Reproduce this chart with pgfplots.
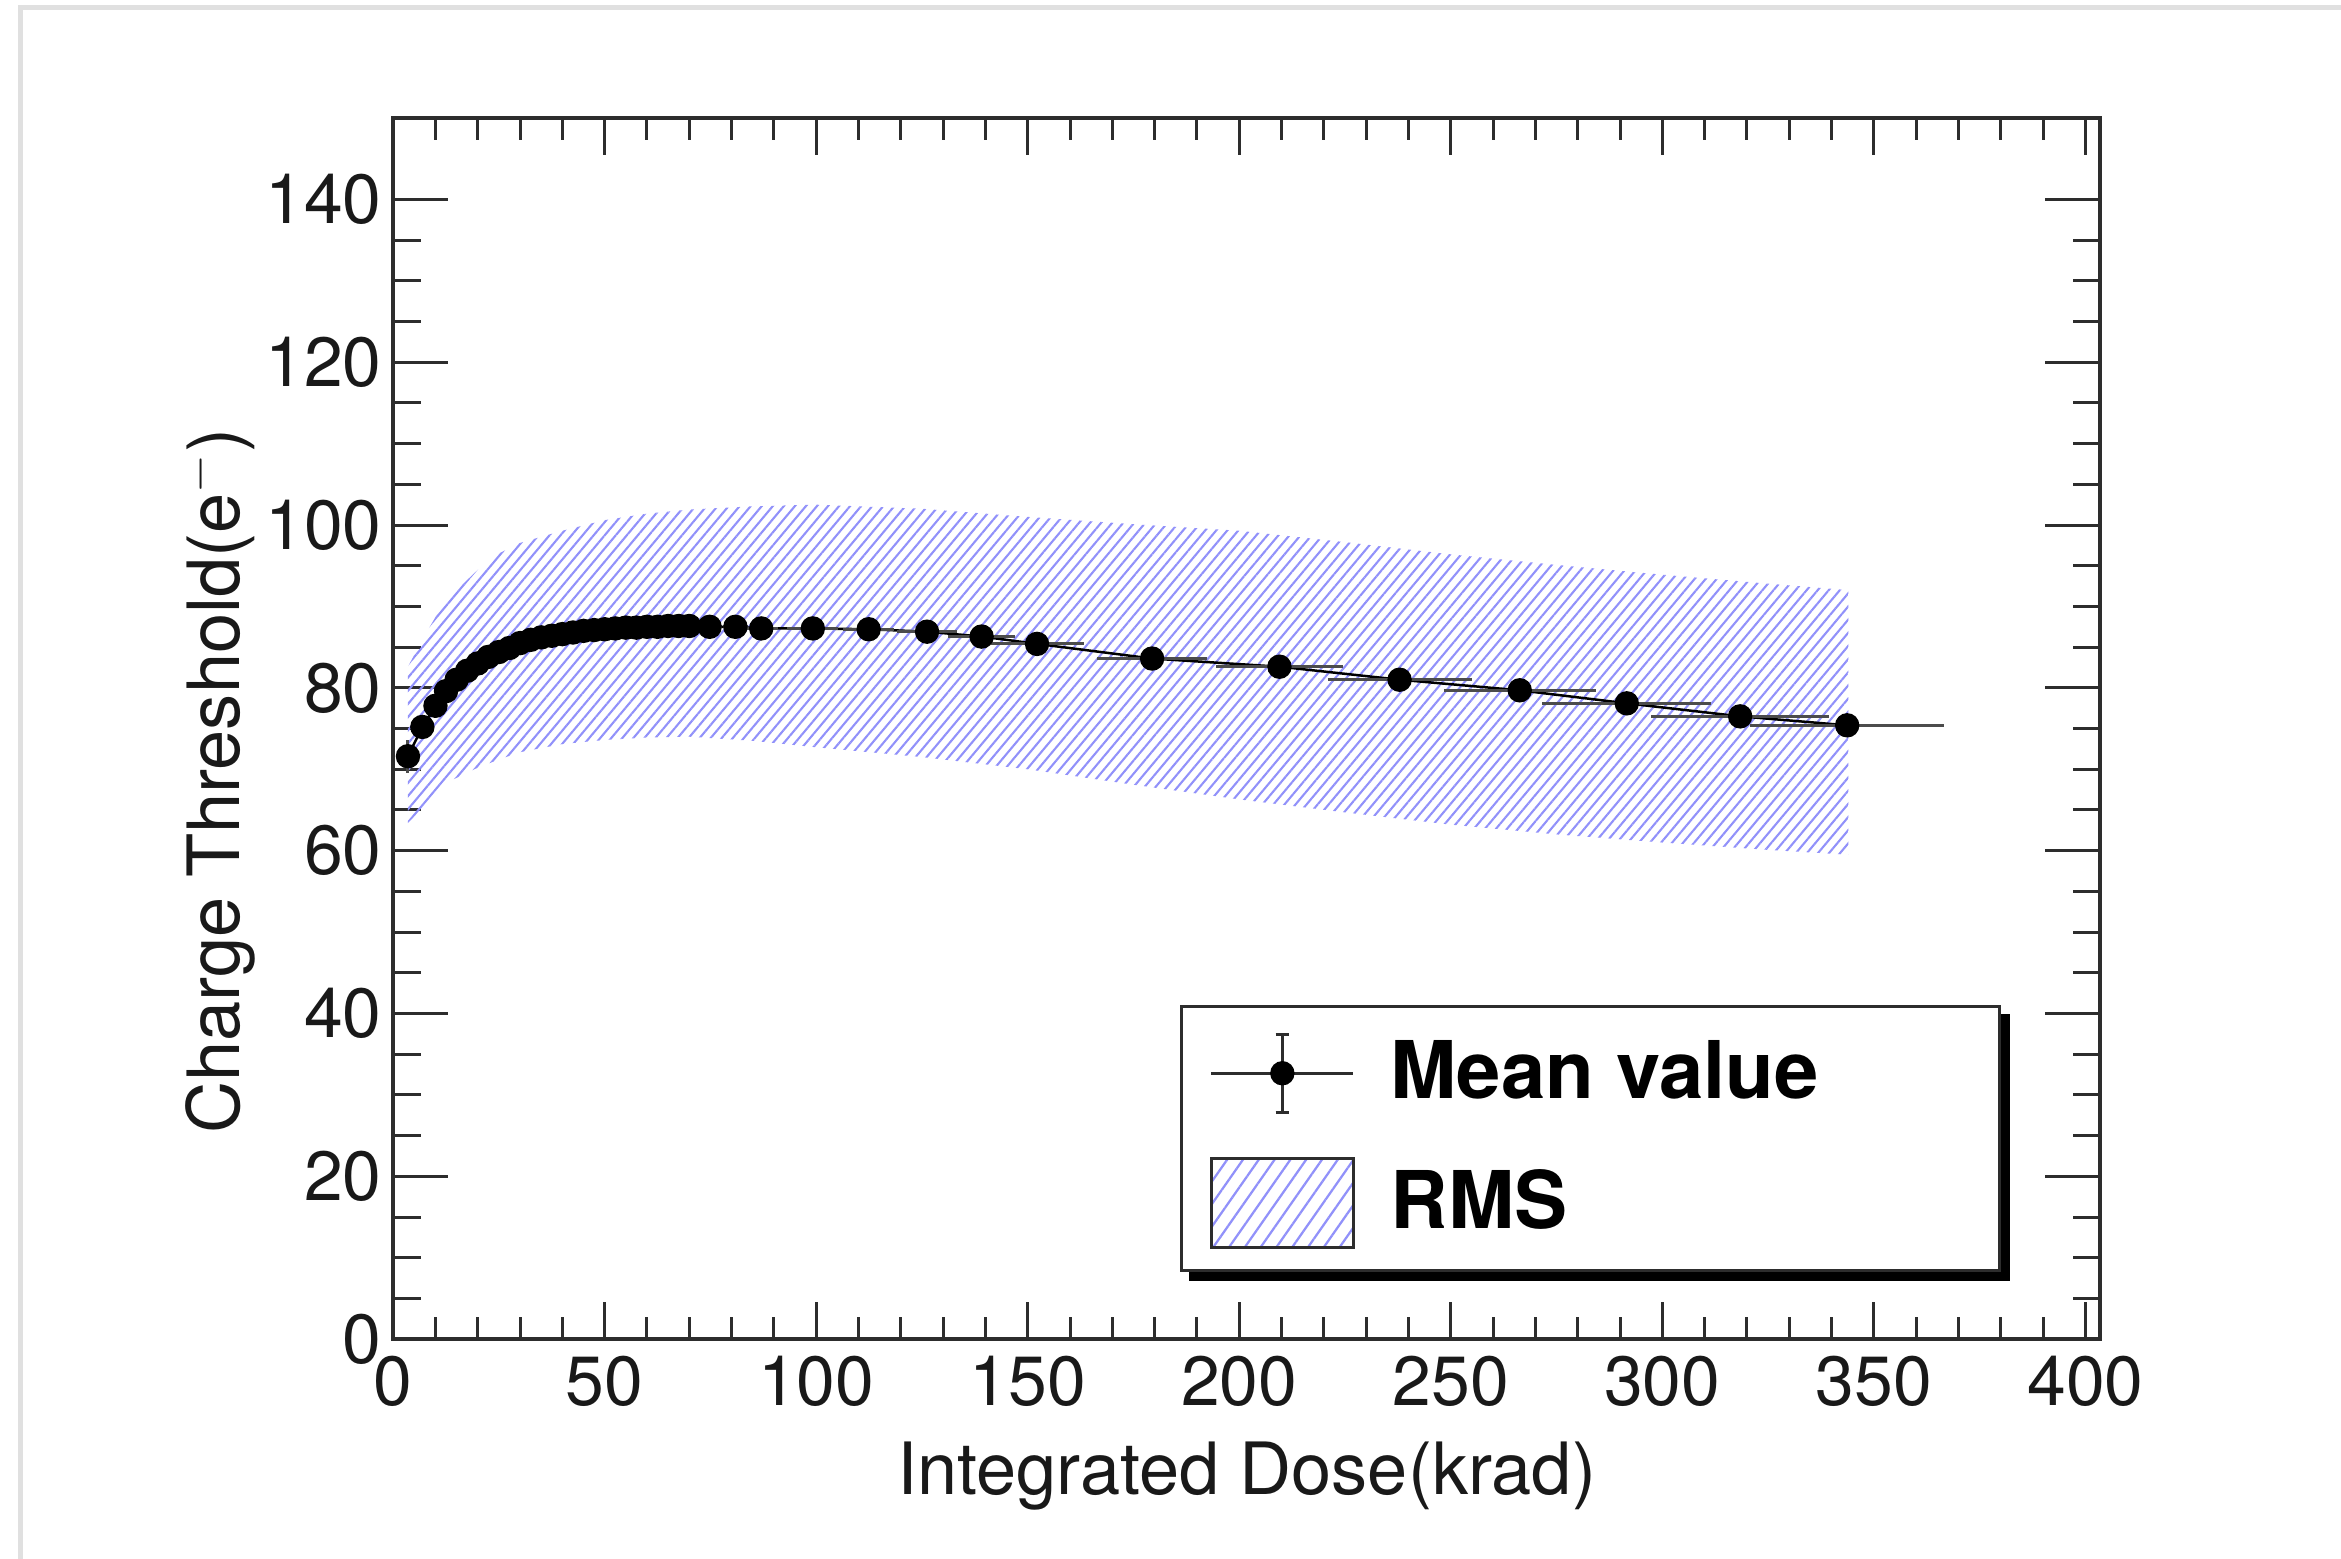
\documentclass[border=0pt]{standalone}
\usepackage{pgfplots}
\pgfplotsset{compat=1.18}
\usepackage{pgfplotstable}
\usepackage{fontspec}
\setmainfont{TeX Gyre Heros}
\usetikzlibrary{patterns.meta}
\definecolor{hatch}{RGB}{145,145,250}
\definecolor{axc}{RGB}{45,45,45}

\pgfplotstableread{
x y ex ey
3.5 71.6 1.2 2.0
6.9 75.2 1.2 1.0
10 77.8 1.2 0.5
12.5 79.6 1.2 0.4
15 81.0 1.2 0.4
17.5 82.1 1.2 0.4
20 83.0 1.2 0.4
22.5 83.8 1.2 0.4
25 84.4 1.2 0.4
27.5 84.9 1.2 0.4
30 85.5 1.2 0.4
32.5 85.9 1.2 0.4
35 86.2 1.2 0.4
37.5 86.4 1.2 0.4
40 86.6 1.2 0.4
42.5 86.8 1.2 0.4
45 87.0 1.2 0.4
47.5 87.1 1.2 0.4
50 87.2 1.2 0.4
52.5 87.3 1.2 0.4
55 87.4 1.2 0.4
57.5 87.4 1.2 0.4
60 87.5 1.2 0.4
62.5 87.5 1.2 0.4
65 87.6 1.2 0.4
67.5 87.6 1.2 0.4
70 87.6 1.2 0.4
74.8 87.5 3 0.4
80.9 87.5 3 0.4
87.0 87.3 4 0.4
99.2 87.3 6 0.4
112.4 87.2 6 0.4
126.2 86.9 7 0.4
139.1 86.3 8 0.4
152.2 85.4 11 0.4
179.4 83.6 13 0.4
209.5 82.6 15 0.4
237.9 81.0 17 0.4
266.3 79.7 18 0.4
291.6 78.1 20 0.4
318.4 76.5 21 0.4
343.7 75.4 23 0.4
}\meandata

\pgfplotstableread{
x y
3.5 82.6
7 86.0
10 88.7
14 91.5
20 94.5
25 96.5
30 97.8
40 99.3
50 100.6
60 101.4
70 101.9
85 102.3
100 102.5
125 102.0
150 101.0
175 100.1
200 99.3
225 97.9
250 96.4
275 95.1
300 93.9
325 92.8
344 92.0
344 59.5
325 60.1
300 61.0
275 62.0
250 63.2
225 64.7
200 66.3
175 68.1
150 70.0
125 71.5
100 72.7
85 73.5
70 74.0
60 73.9
50 73.6
40 73.1
30 72.1
25 71.2
20 70.2
14 68.7
10 67.2
7 65.3
3.5 63.4
}\rmsband

\begin{document}
\begin{tikzpicture}
\useasboundingbox (0,0) rectangle (470.4pt,313.2pt);
\draw[black!12, line width=1pt] (4.2pt,0pt) -- (4.2pt,311.7pt) -- (470.4pt,311.7pt);
\begin{axis}[
  at={(79pt,44.1pt)}, anchor=south west,
  scale only axis, width=343pt, height=245.4pt,
  xmin=0, xmax=403.5, ymin=0, ymax=150,
  xtick={0,50,...,400}, ytick={0,20,...,140},
  minor x tick num=4, minor y tick num=3,
  tick align=inside,
  axis line style={axc, line width=0.7pt},
  tick style={axc, line width=0.6pt},
  major tick length=11pt, minor tick length=5.5pt,
  xtick style={/pgfplots/major tick length=7.5pt,/pgfplots/minor tick length=4.5pt},
  ticklabel style={font=\fontsize{14}{16}\selectfont, text=black!90},
  /pgf/number format/assume math mode=true,
  yticklabel style={inner sep=0pt, xshift=-2.1pt},
  xticklabel style={inner sep=0pt, yshift=-3.2pt},
  xlabel={Integrated Dose(krad)},
  ylabel={Charge Threshold(e$^{-}$)},
  label style={font=\fontsize{14.5}{17}\selectfont, text=black!90},
  xlabel style={at={(axis description cs:0.5,-0.127)}, anchor=base},
  ylabel style={at={(axis description cs:-0.090,0.457)}, anchor=base},
  legend style={name=leg, at={(axis description cs:0.461,0.274)}, anchor=north west,
    draw=axc, line width=0.6pt, fill=white,
    inner xsep=6pt, inner ysep=0.45pt, row sep=0pt, column sep=7.5pt,
    nodes={inner sep=0pt}, font=\bfseries\fontsize{16}{19}\selectfont},
  legend cell align=left,
  reverse legend,
]
\addplot[draw=none, pattern={Lines[angle=50,distance=1.7pt,line width=0.42pt]}, pattern color=hatch,
  legend image code/.code={
    \pgfpathrectangle{\pgfpoint{0pt}{-13.05pt}}{\pgfpoint{28.5pt}{26.1pt}}\pgfusepath{use as bounding box}
    \draw[axc, line width=0.6pt, pattern={Lines[angle=55,distance=2.6pt,line width=0.45pt]}, pattern color=hatch] (0pt,-9pt) rectangle (28.5pt,9pt);
  }] table[x=x,y=y] {\rmsband};
\addlegendentry{\makebox[116.4pt][l]{RMS}}

\addplot[black, line width=0.5pt, mark=*, mark size=2.2pt, mark options={solid, fill=black},
  legend image code/.code={
    \pgfpathrectangle{\pgfpoint{0pt}{-13.05pt}}{\pgfpoint{28.5pt}{26.1pt}}\pgfusepath{use as bounding box}
    \draw[axc, line width=0.6pt] (0pt,0pt) -- (28.5pt,0pt);
    \draw[axc, line width=0.6pt] (14.25pt,-7.8pt) -- (14.25pt,7.8pt);
    \draw[axc, line width=0.6pt] (12.9pt,7.8pt) -- (15.6pt,7.8pt);
    \draw[axc, line width=0.6pt] (12.9pt,-7.8pt) -- (15.6pt,-7.8pt);
    \fill[black] (14.25pt,0pt) circle (2.2pt);
  },
  error bars/.cd, x dir=both, x explicit, y dir=both, y explicit,
  error bar style={line width=0.6pt, black!70}, error mark=none]
  table[x=x, y=y, x error=ex, y error=ey] {\meandata};
\addlegendentry{\makebox[116.4pt][l]{Mean value}}
\end{axis}
\fill[black] ([yshift=-1.8pt]leg.north east) rectangle ([xshift=1.8pt,yshift=-1.8pt]leg.south east);
\fill[black] ([xshift=1.8pt]leg.south west) rectangle ([xshift=1.8pt,yshift=-1.8pt]leg.south east);
\end{tikzpicture}
\end{document}
